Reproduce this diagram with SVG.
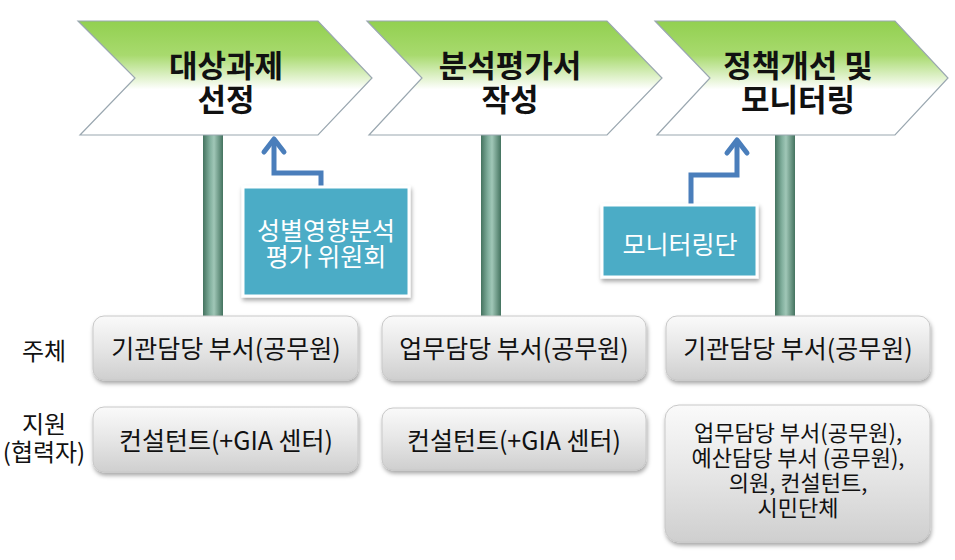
<svg xmlns="http://www.w3.org/2000/svg" width="955" height="560" viewBox="0 0 955 560">
<defs>
<linearGradient id="gChev" x1="0" y1="0" x2="0" y2="1">
<stop offset="0" stop-color="#92d050"/>
<stop offset="0.3" stop-color="#a8da6e"/>
<stop offset="0.6" stop-color="#ffffff"/>
<stop offset="1" stop-color="#ffffff"/>
</linearGradient>
<linearGradient id="gPillar" x1="0" y1="0" x2="1" y2="0">
<stop offset="0" stop-color="#44735f"/>
<stop offset="0.35" stop-color="#82b09e"/>
<stop offset="0.55" stop-color="#a0c7b7"/>
<stop offset="1" stop-color="#44735f"/>
</linearGradient>
<linearGradient id="gBox" x1="0" y1="0" x2="0" y2="1">
<stop offset="0" stop-color="#fafafa"/>
<stop offset="0.5" stop-color="#e6e6e6"/>
<stop offset="1" stop-color="#cfcfcf"/>
</linearGradient>
<filter id="sh" x="-10%" y="-10%" width="130%" height="140%">
<feDropShadow dx="1" dy="3" stdDeviation="2" flood-color="#000" flood-opacity="0.35"/>
</filter>
<style>
.chev{fill:url(#gChev);stroke:#9aa7b0;stroke-width:1.2;}
.ct{font-family:"Noto Sans CJK KR","Noto Sans",sans-serif;font-weight:bold;font-size:31px;fill:#111;text-anchor:middle;}
.pillar{fill:url(#gPillar);}
.box{fill:url(#gBox);stroke:#c8c8c8;stroke-width:1;filter:url(#sh);}
.bt{font-family:"Noto Sans CJK KR","Noto Sans",sans-serif;font-size:25px;fill:#111;text-anchor:middle;}
.bt2{font-family:"Noto Sans CJK KR","Noto Sans",sans-serif;font-size:22px;fill:#111;text-anchor:middle;}
.teal{fill:#4bacc6;stroke:#ffffff;stroke-width:3;filter:url(#sh);}
.tt{font-family:"Noto Sans CJK KR","Noto Sans",sans-serif;font-size:25px;fill:#ffffff;text-anchor:middle;}
.lab{font-family:"Noto Sans CJK KR","Noto Sans",sans-serif;font-size:24px;fill:#111;text-anchor:middle;}
.conn{fill:none;stroke:#4a7ebb;stroke-width:5;stroke-linejoin:miter;}
.head{fill:none;stroke:#4a7ebb;stroke-width:5;stroke-linecap:round;stroke-linejoin:round;}
</style>
</defs>
<rect width="955" height="560" fill="#ffffff"/>

<g id="pillars">
<rect class="pillar" x="203" y="130" width="20" height="190"/>
<rect class="pillar" x="481" y="130" width="20" height="190"/>
<rect class="pillar" x="775" y="130" width="20" height="190"/>
</g>

<g id="step1">
<polygon class="chev" points="78,21 318,21 372,78 318,135 80,135 135,78"/>
<text class="ct" x="226" y="77">대상과제</text>
<text class="ct" x="226" y="111">선정</text>
</g>
<g id="step2">
<polygon class="chev" points="367,21 607,21 662,78 607,135 369,135 422,78"/>
<text class="ct" x="510" y="77">분석평가서</text>
<text class="ct" x="510" y="111">작성</text>
</g>
<g id="step3">
<polygon class="chev" points="655,21 895,21 948,78 895,135 657,135 710,78"/>
<text class="ct" x="798" y="77">정책개선 및</text>
<text class="ct" x="798" y="111">모니터링</text>
</g>

<g id="connectors">
<path class="conn" d="M321,187 L321,173 L274,173 L274,141"/>
<path class="head" d="M264,152 L274,139 L284,152"/>
<path class="conn" d="M691,205 L691,175 L737,175 L737,141"/>
<path class="head" d="M727,153 L737,140 L747,153"/>
</g>

<g id="committee">
<rect class="teal" x="243" y="187" width="166" height="109"/>
<text class="tt" x="326" y="240">성별영향분석</text>
<text class="tt" x="326" y="266">평가 위원회</text>
</g>
<g id="monitor">
<rect class="teal" x="602" y="205" width="155" height="72"/>
<text class="tt" x="680" y="254">모니터링단</text>
</g>

<g id="label-subject">
<text class="lab" x="44" y="360">주체</text>
</g>
<g id="label-support">
<text class="lab" x="44" y="433">지원</text>
<text class="lab" x="44" y="461">(협력자)</text>
</g>

<g id="subj1">
<rect class="box" x="93" y="316" width="265" height="64" rx="11"/>
<text class="bt" x="226" y="358">기관담당 부서(공무원)</text>
</g>
<g id="subj2">
<rect class="box" x="382" y="316" width="264" height="64" rx="11"/>
<text class="bt" x="514" y="358">업무담당 부서(공무원)</text>
</g>
<g id="subj3">
<rect class="box" x="666" y="316" width="264" height="64" rx="11"/>
<text class="bt" x="798" y="358">기관담당 부서(공무원)</text>
</g>

<g id="sup1">
<rect class="box" x="93" y="407" width="265" height="65" rx="11"/>
<text class="bt" x="226" y="450">컨설턴트(+GIA 센터)</text>
</g>
<g id="sup2">
<rect class="box" x="382" y="408" width="264" height="62" rx="11"/>
<text class="bt" x="514" y="450">컨설턴트(+GIA 센터)</text>
</g>
<g id="sup3">
<rect class="box" x="665" y="405" width="265" height="137" rx="14"/>
<text class="bt2" x="798" y="441">업무담당 부서(공무원),</text>
<text class="bt2" x="798" y="466">예산담당 부서 (공무원),</text>
<text class="bt2" x="798" y="491">의원, 컨설턴트,</text>
<text class="bt2" x="798" y="516">시민단체</text>
</g>
</svg>
